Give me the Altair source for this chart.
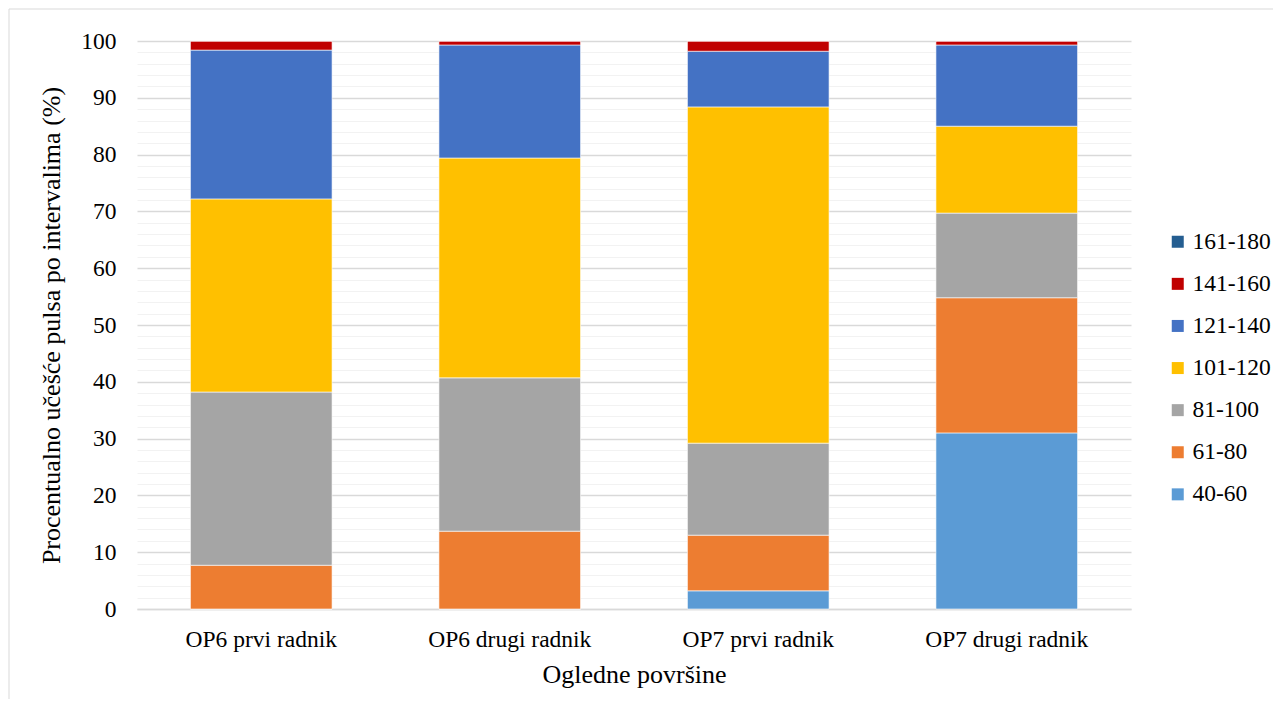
import altair as alt
import pandas as pd

categories = ["OP6 prvi radnik", "OP6 drugi radnik", "OP7 prvi radnik", "OP7 drugi radnik"]
intervals = ["40-60", "61-80", "81-100", "101-120", "121-140", "141-160", "161-180"]
colors = ["#5B9BD5", "#ED7D31", "#A5A5A5", "#FFC000", "#4472C4", "#C00000", "#255E91"]

v_40_60 = [0.0, 0.0, 3.2, 31.0]
v_61_80 = [7.7, 13.7, 9.8, 23.8]
v_81_100 = [30.5, 27.0, 16.2, 14.9]
v_101_120 = [34.0, 38.7, 59.2, 15.3]
v_121_140 = [26.2, 19.9, 9.8, 14.3]
v_141_160 = [1.6, 0.7, 1.8, 0.7]
v_161_180 = [0.0, 0.0, 0.0, 0.0]

series = [v_40_60, v_61_80, v_81_100, v_101_120, v_121_140, v_141_160, v_161_180]
rows = []
for i, (name, vals) in enumerate(zip(intervals, series)):
    for c, v in zip(categories, vals):
        rows.append({"kat": c, "interval": name, "vrednost": v, "red": i})
df = pd.DataFrame(rows)

FONT = "'Liberation Serif', 'Times New Roman', 'DejaVu Serif', serif"

bars = alt.Chart(df).mark_bar(stroke="white", strokeWidth=0.6).encode(
    x=alt.X("kat:N", sort=categories, scale=alt.Scale(paddingInner=0.43, paddingOuter=0.215),
            axis=alt.Axis(title="Ogledne površine", labelAngle=0, labelFontSize=23.5, titleFontSize=26,
                          labelFont=FONT, titleFont=FONT,
                          labelPadding=18, titlePadding=11, ticks=False, domain=True,
                          domainColor="#D9D9D9", domainWidth=1.5, labelColor="#000000",
                          titleColor="#000000", titleFontWeight="normal")),
    y=alt.Y("vrednost:Q", stack="zero", scale=alt.Scale(domain=[0, 100], nice=False),
            axis=alt.Axis(title="Procentualno učešće pulsa po intervalima (%)",
                          values=list(range(0, 101, 2)),
                          labelExpr="datum.value % 10 === 0 ? datum.label : ''",
                          gridColor={"condition": {"test": "datum.value % 10 === 0", "value": "#D9D9D9"}, "value": "#F2F2F2"},
                          gridWidth={"condition": {"test": "datum.value % 10 === 0", "value": 1.5}, "value": 1},
                          labelFont=FONT, titleFont=FONT,
                          ticks=False, domain=False, labelFontSize=23.5, titleFontSize=26,
                          labelPadding=21, titlePadding=16, labelColor="#000000",
                          titleColor="#000000", titleFontWeight="normal")),
    color=alt.Color("interval:N", scale=alt.Scale(domain=intervals[::-1], range=colors[::-1]),
                    legend=alt.Legend(title=None, orient="none", legendX=1029, legendY=189,
                                      symbolType="square", symbolSize=144, symbolStrokeWidth=0,
                                      labelFont=FONT, labelFontSize=23.5, rowPadding=17.1, labelOffset=3,
                                      labelColor="#000000")),
    order=alt.Order("red:Q", sort="ascending"),
)

border = alt.Chart(pd.DataFrame({"a": [0]})).mark_rect(fill=None, stroke="#D9D9D9", strokeWidth=1).encode(
    x=alt.value(-128), x2=alt.value(1150), y=alt.value(-32), y2=alt.value(700)
)

chart = alt.layer(border, bars).properties(
    width=994, height=568,
    autosize=alt.AutoSizeParams(type="none"),
    padding={"left": 129, "top": 33, "right": 142, "bottom": 90},
).configure(font=FONT).configure_view(stroke=None)

chart.save("out.html", embed_options={"renderer": "svg", "actions": False})
